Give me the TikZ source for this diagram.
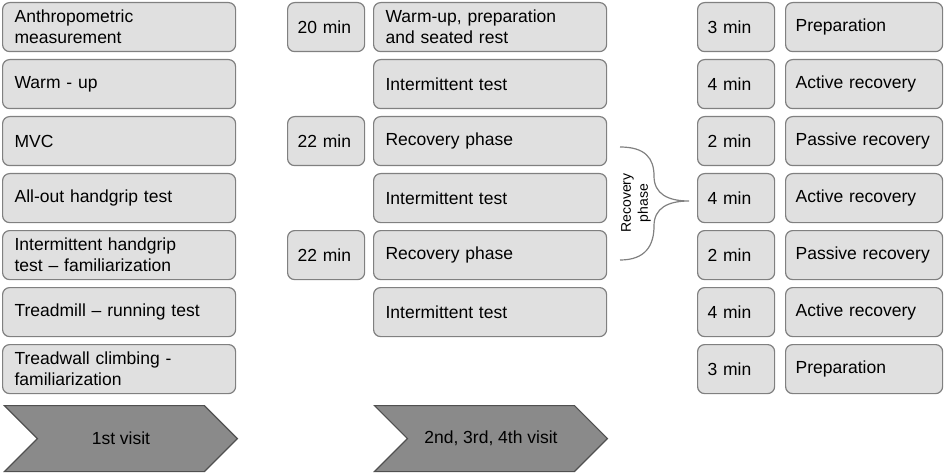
\documentclass[tikz,border=0pt]{standalone}
\usepackage{fontspec}
\setmainfont{Liberation Sans}
\usetikzlibrary{shapes.symbols}
\definecolor{boxfill}{RGB}{224,224,224}
\definecolor{boxline}{RGB}{128,128,128}
\definecolor{visitfill}{RGB}{138,138,138}
\definecolor{visitline}{RGB}{80,80,80}
\begin{document}
\begin{tikzpicture}[
		x=1pt, y=-1pt,
		stepbox/.style={draw=boxline, fill=boxfill, line width=1.2pt, rounded corners=7pt,
				anchor=north west, minimum height=49pt, inner ysep=0pt, align=left,
				font=\fontsize{17.5}{21}\selectfont},
		widebox/.style={stepbox, inner xsep=12pt, minimum width=233pt, text width=209pt},
		timebox/.style={stepbox, inner xsep=10pt, minimum width=77pt, text width=57pt},
		phasebox/.style={stepbox, inner xsep=10pt, minimum width=157pt, text width=137pt},
		visitarrow/.style={signal, signal from=west, signal to=east, signal pointer angle=90,
				draw=visitline, fill=visitfill, line width=1.2pt, anchor=north west,
				minimum width=233pt, minimum height=66pt, inner sep=0pt,
				font=\fontsize{17.5}{21}\selectfont}
	]
	\useasboundingbox (0,0) rectangle (944,473);

	% 1st visit
	\node[widebox] (anthro) at (2,2) {Anthropometric\\measurement};
	\node[widebox] (warmup) at (2,59) {Warm - up};
	\node[widebox] (mvc) at (2,116) {MVC};
	\node[widebox] (allout) at (2,173) {All-out handgrip test};
	\node[widebox] (famhand) at (2,230) {Intermittent handgrip\\test – familiarization};
	\node[widebox] (treadmill) at (2,287) {Treadmill – running test};
	\node[widebox] (famwall) at (2,344) {Treadwall climbing -\\familiarization};

	% durations, later visits
	\node[timebox] (dur20) at (287,2) {20 min};
	\node[timebox] (dur22a) at (287,116) {22 min};
	\node[timebox] (dur22b) at (287,230) {22 min};

	% 2nd, 3rd, 4th visit
	\node[widebox] (prep) at (373,2) {Warm-up, preparation\\and seated rest};
	\node[widebox] (int1) at (373,59) {Intermittent test};
	\node[widebox] (rec1) at (373,116) {Recovery phase};
	\node[widebox] (int2) at (373,173) {Intermittent test};
	\node[widebox] (rec2) at (373,230) {Recovery phase};
	\node[widebox] (int3) at (373,287) {Intermittent test};

	% recovery phase in detail
	\node[timebox] (min3a) at (697,2) {3 min};
	\node[timebox] (min4a) at (697,59) {4 min};
	\node[timebox] (min2a) at (697,116) {2 min};
	\node[timebox] (min4b) at (697,173) {4 min};
	\node[timebox] (min2b) at (697,230) {2 min};
	\node[timebox] (min4c) at (697,287) {4 min};
	\node[timebox] (min3b) at (697,344) {3 min};

	\node[phasebox] (prepa) at (785,2) {Preparation};
	\node[phasebox] (activea) at (785,59) {Active recovery};
	\node[phasebox] (passivea) at (785,116) {Passive recovery};
	\node[phasebox] (activeb) at (785,173) {Active recovery};
	\node[phasebox] (passiveb) at (785,230) {Passive recovery};
	\node[phasebox] (activec) at (785,287) {Active recovery};
	\node[phasebox] (prepb) at (785,344) {Preparation};

	% brace
	\coordinate (bracetop) at (620,147);
	\coordinate (bracetip) at (689,201);
	\coordinate (bracebot) at (620,260);
	\draw[boxline, line width=1.2pt]
	(bracetop) .. controls (645,147) and (654,158) .. (654,176)
	.. controls (654,194) and (668,201) .. (bracetip)
	.. controls (668,201) and (654,208) .. (654,226)
	.. controls (654,246) and (645,260) .. (bracebot);
	\node[rotate=90, align=center, inner sep=0pt, font=\fontsize{14}{17}\selectfont]
	(recphase) at (636,203) {Recovery\\phase};

	% visits
	\node[visitarrow] (visit1) at (3,405) {1st visit};
	\node[visitarrow] (visit2) at (373,405) {2nd, 3rd, 4th visit};
\end{tikzpicture}
\end{document}
